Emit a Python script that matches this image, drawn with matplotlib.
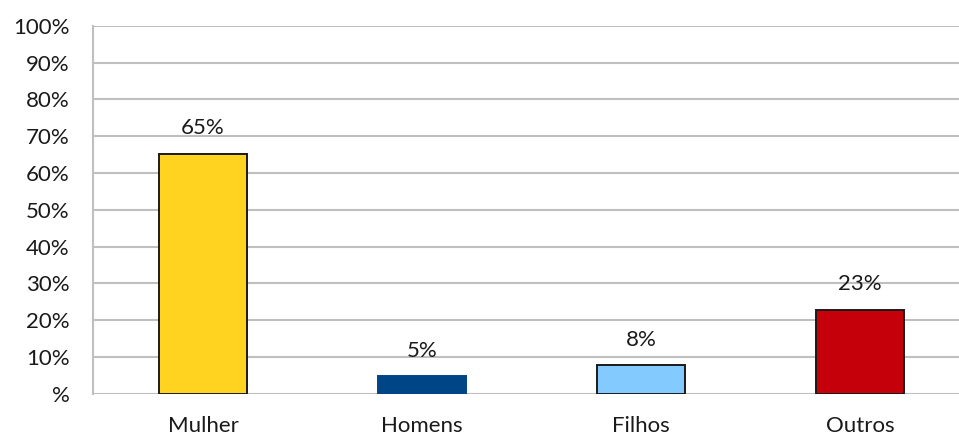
import matplotlib
matplotlib.use("Agg")
import matplotlib.pyplot as plt
from matplotlib.ticker import FixedLocator, FixedFormatter

plt.rcParams['font.family'] = ['Lato', 'DejaVu Sans']

categories = ["Mulher", "Homens", "Filhos", "Outros"]
shares = [0.652, 0.048, 0.078, 0.228]
bar_colors = ["#FFD320", "#004586", "#83CAFF", "#C5000B"]
edge_colors = ["#1a1a1a", "#004586", "#1a1a1a", "#1a1a1a"]
y_ticks = [0, 0.1, 0.2, 0.3, 0.4, 0.5, 0.6, 0.7, 0.8, 0.9, 1.0]
y_tick_labels = ["%", "10%", "20%", "30%", "40%", "50%", "60%", "70%", "80%", "90%", "100%"]

fig = plt.figure(figsize=(9.59, 4.36), dpi=100)
ax = fig.add_axes([0.097, 0.097, 0.903, 0.844])

x = range(len(categories))
bars = ax.bar(x, shares, width=0.40, color=bar_colors, edgecolor=edge_colors,
              linewidth=1.4, zorder=3)

for xi, v in zip(x, shares):
    ax.annotate(f"{v:.0%}", (xi, v), xytext=(0, 14), textcoords="offset points",
                ha="center", va="baseline", fontsize=16, color="#1a1a1a")

ax.set_xlim(-0.502, 3.452)
ax.set_ylim(0, 1.0)
ax.yaxis.set_major_locator(FixedLocator(y_ticks))
ax.yaxis.set_major_formatter(FixedFormatter(y_tick_labels))
ax.set_xticks(list(x))
ax.set_xticklabels(categories)

ax.grid(axis="y", color="#bfbfbf", linewidth=1.5, zorder=0)
ax.set_axisbelow(True)
for side in ("top", "right", "bottom"):
    ax.spines[side].set_visible(False)
ax.spines["left"].set_color("#bfbfbf")
ax.spines["left"].set_linewidth(1.5)

ax.tick_params(axis="y", length=0, pad=17, labelsize=16, labelcolor="#1a1a1a")
ax.tick_params(axis="x", length=0, pad=16, labelsize=16, labelcolor="#1a1a1a")

fig.savefig("out.png", dpi=100)
